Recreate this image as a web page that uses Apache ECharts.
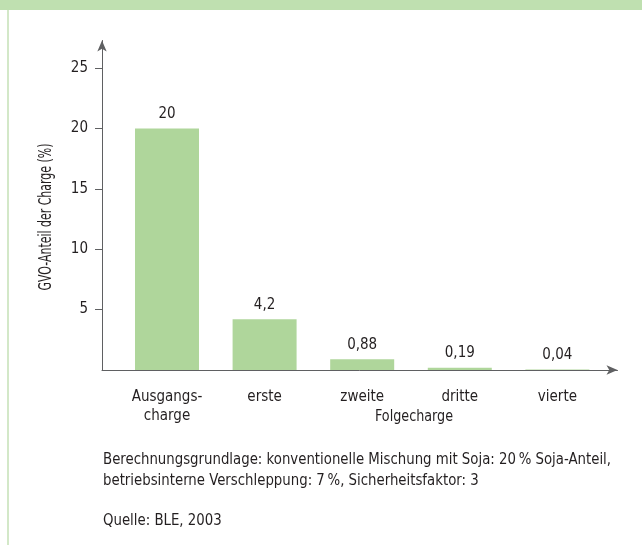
<!DOCTYPE html>
<html>
<head>
<meta charset="utf-8">
<script src="https://cdn.jsdelivr.net/npm/echarts@6/dist/echarts.min.js"></script>
<style>
  html, body { margin: 0; padding: 0; background: #ffffff; }
  #chart { width: 642px; height: 545px; }
</style>
</head>
<body>
<div id="chart"></div>
<script>
// Batches: the starting batch and the four following batches
const categories = ['Ausgangs-\ncharge', 'erste', 'zweite', 'dritte', 'vierte'];
// GMO share of each batch in percent
const gvoShare = [20, 4.2, 0.88, 0.19, 0.04];
// Labelled ticks on the percentage axis
const yTicks = [5, 10, 15, 20, 25];

const FONT = '"DejaVu Sans Condensed", "Liberation Sans", sans-serif';
const TEXT = '#231f20';
const AXIS = '#5f6062';

// Narrow the free-standing texts so they set as tightly as a condensed face
const measureCtx = document.createElement('canvas').getContext('2d');
function squeezeTo(text, size, width) {
  measureCtx.font = size + 'px ' + FONT;
  return width / measureCtx.measureText(text).width;
}
const note1 = 'Berechnungsgrundlage: konventionelle Mischung mit Soja: 20\u2009% Soja-Anteil,';
const note2 = 'betriebsinterne Verschleppung: 7\u2009%, Sicherheitsfaktor: 3';
const source = 'Quelle: BLE, 2003';
const yName = 'GVO-Anteil der Charge (%)';
const xName = 'Folgecharge';
const noteScale = squeezeTo(note1, 16, 508);

const chart = echarts.init(document.getElementById('chart'), null, { renderer: 'canvas' });

const fmt = v => String(v).replace('.', ',');

chart.setOption({
  animation: false,
  backgroundColor: '#ffffff',
  textStyle: { fontFamily: FONT, color: TEXT },
  grid: { left: 102, right: 24.5, top: 40.5, bottom: 175, containLabel: false },
  xAxis: {
    type: 'value',
    min: -0.666,
    max: 4.616,
    splitLine: { show: false },
    axisLine: {
      show: true,
      onZero: false,
      lineStyle: { color: AXIS, width: 1 },
      symbol: ['none', 'arrow'],
      symbolSize: [7, 11]
    },
    axisTick: { show: false },
    axisLabel: {
      customValues: [0, 1, 2, 3, 4],
      formatter: v => categories[Math.round(v)] || '',
      margin: 18,
      fontFamily: FONT,
      fontSize: 15,
      lineHeight: 19,
      color: TEXT
    }
  },
  yAxis: {
    type: 'value',
    min: 0,
    max: 27.28,
    splitLine: { show: false },
    axisLine: {
      show: true,
      onZero: false,
      lineStyle: { color: AXIS, width: 1 },
      symbol: ['none', 'arrow'],
      symbolSize: [7, 11]
    },
    axisTick: {
      show: true,
      customValues: yTicks,
      length: 7,
      lineStyle: { color: AXIS, width: 1 }
    },
    axisLabel: {
      customValues: yTicks,
      margin: 14,
      fontFamily: FONT,
      fontSize: 15,
      color: TEXT
    }
  },
  series: [{
    type: 'bar',
    barWidth: 64,
    data: gvoShare.map((v, i) => [i, v]),
    itemStyle: { color: '#afd69b' },
    label: {
      show: true,
      position: 'top',
      distance: 7,
      formatter: p => fmt(p.value[1]),
      fontFamily: FONT,
      fontSize: 15,
      color: TEXT
    }
  }],
  graphic: [
    { type: 'rect', left: 0, top: 0, shape: { width: 642, height: 10 }, style: { fill: '#bfe0b0' }, silent: true },
    { type: 'rect', left: 7, top: 10, shape: { width: 2, height: 535 }, style: { fill: '#d3e8c8' }, silent: true },
    {
      type: 'text', x: 47, y: 217, rotation: Math.PI / 2, scaleX: squeezeTo(yName, 17, 147),
      style: { text: yName, font: '17px ' + FONT, fill: TEXT, align: 'center', verticalAlign: 'middle' }
    },
    {
      type: 'text', x: 414, y: 417, scaleX: squeezeTo(xName, 16, 78),
      style: { text: xName, font: '16px ' + FONT, fill: TEXT, align: 'center', verticalAlign: 'middle' }
    },
    {
      type: 'text', x: 103, y: 460, scaleX: noteScale,
      style: { text: note1, font: '16px ' + FONT, fill: TEXT, verticalAlign: 'middle' }
    },
    {
      type: 'text', x: 103, y: 481, scaleX: noteScale,
      style: { text: note2, font: '16px ' + FONT, fill: TEXT, verticalAlign: 'middle' }
    },
    {
      type: 'text', x: 103, y: 521, scaleX: noteScale,
      style: { text: source, font: '16px ' + FONT, fill: TEXT, verticalAlign: 'middle' }
    }
  ]
});
</script>
</body>
</html>
